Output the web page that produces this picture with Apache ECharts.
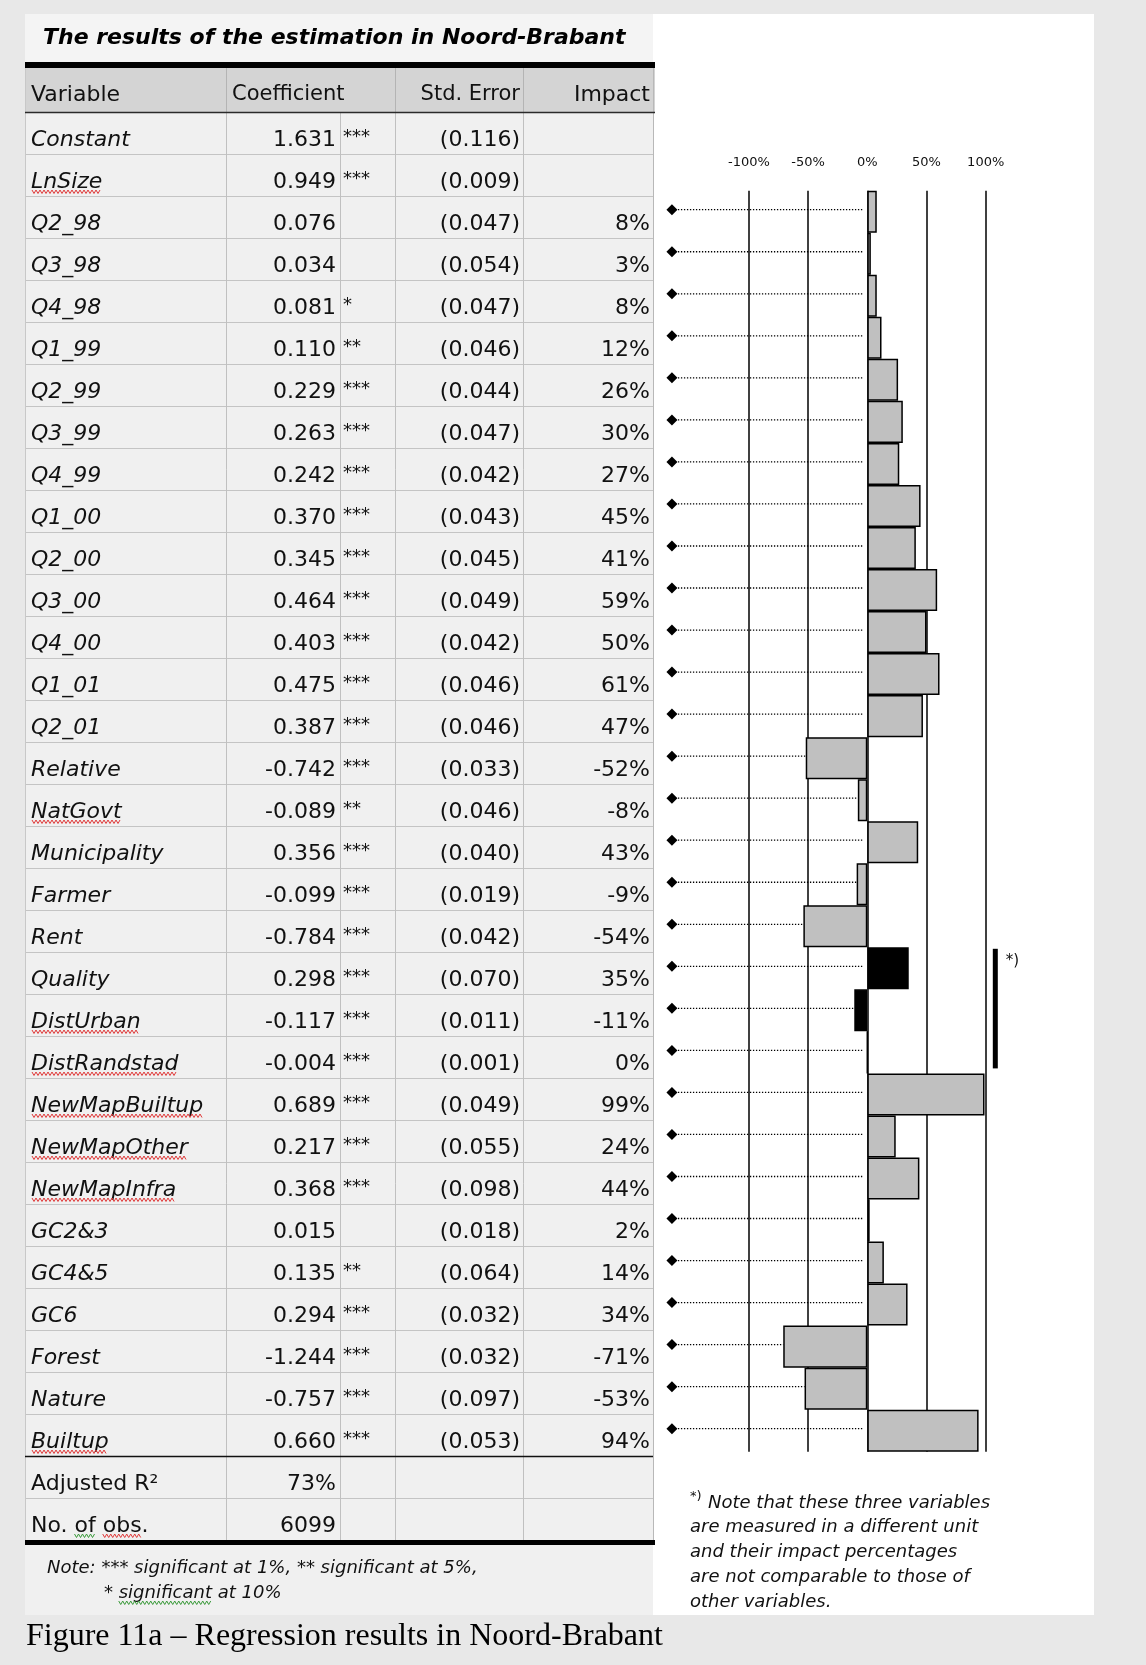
<!DOCTYPE html>
<html><head><meta charset="utf-8">
<script src="https://cdn.jsdelivr.net/npm/echarts@6/dist/echarts.min.js"></script>
<style>html,body{margin:0;padding:0;background:#e8e8e8}#c{width:1146px;height:1665px}</style>
</head><body><div id="c"></div>
<script>
// ---------------- data ----------------
const variables = ['Constant','LnSize','Q2_98','Q3_98','Q4_98','Q1_99','Q2_99','Q3_99','Q4_99','Q1_00','Q2_00','Q3_00','Q4_00','Q1_01','Q2_01','Relative','NatGovt','Municipality','Farmer','Rent','Quality','DistUrban','DistRandstad','NewMapBuiltup','NewMapOther','NewMapInfra','GC2&3','GC4&5','GC6','Forest','Nature','Builtup'];
const coefficients = [1.631,0.949,0.076,0.034,0.081,0.110,0.229,0.263,0.242,0.370,0.345,0.464,0.403,0.475,0.387,-0.742,-0.089,0.356,-0.099,-0.784,0.298,-0.117,-0.004,0.689,0.217,0.368,0.015,0.135,0.294,-1.244,-0.757,0.660];
const stars = ['***','***','','','*','**','***','***','***','***','***','***','***','***','***','***','**','***','***','***','***','***','***','***','***','***','','**','***','***','***','***'];
const stdErrors = [0.116,0.009,0.047,0.054,0.047,0.046,0.044,0.047,0.042,0.043,0.045,0.049,0.042,0.046,0.046,0.033,0.046,0.040,0.019,0.042,0.070,0.011,0.001,0.049,0.055,0.098,0.018,0.064,0.032,0.032,0.097,0.053];
const impacts = [null,null,8,3,8,12,26,30,27,45,41,59,50,61,47,-52,-8,43,-9,-54,35,-11,0,99,24,44,2,14,34,-71,-53,94];
const summaryLabels = ['Adjusted R\u00B2','No. of obs.'];
const summaryValues = ['73%','6099'];
const differentUnit = ['Quality','DistUrban','DistRandstad'];
const axisTicks = [-100,-50,0,50,100];
const spellFlagged = ['LnSize','NatGovt','DistUrban','DistRandstad','NewMapBuiltup','NewMapOther','NewMapInfra','Builtup'];

const titleText = 'The results of the estimation in Noord-Brabant';
const headers = ['Variable','Coefficient','Std. Error','Impact'];
const noteLeft = ['Note: *** significant at 1%, ** significant at 5%,','* significant at 10%'];
const noteRight = ['Note that these three variables','are measured in a different unit','and their impact percentages','are not comparable to those of','other variables.'];
const captionText = 'Figure 11a \u2013 Regression results in Noord-Brabant';

// chart part uses variables with an impact value
const chartCats = variables.filter((v,i)=>impacts[i]!==null);
const chartVals = impacts.filter(v=>v!==null);

// ---------------- layout ----------------
const FONT = '"DejaVu Sans"';
const L = 25, R = 653, ROW0 = 112, RH = 42;
const colLines = [226, 340, 395, 523];
const ctx = document.createElement('canvas').getContext('2d');
function tw(font, t){ ctx.font = font; return ctx.measureText(t).width; }

const g = [];
function rect(x,y,w,h,fill,z){ g.push({type:'rect', z: z||0, silent:true, shape:{x,y,width:w,height:h}, style:{fill}}); }
function line(x1,y1,x2,y2,stroke,w,z){ g.push({type:'line', z: z||1, silent:true, shape:{x1,y1,x2,y2}, style:{stroke, lineWidth:w}}); }
function text(t,x,y,font,align,fill,z){ g.push({type:'text', z: z||5, silent:true, x, y, style:{text:t, font, fill: fill||'#111', textAlign:align||'left', align:align||'left', textVerticalAlign:'middle', verticalAlign:'middle'}}); }
function wavy(x0,w,yTop,color){ const pts=[]; let k=0; for(let x=x0;x<=x0+w;x+=2,k++){ pts.push([x, yTop + (k%2?3.5:0)]); } g.push({type:'polyline', z:6, silent:true, shape:{points:pts}, style:{stroke:color, lineWidth:1, fill:null}}); }

// backgrounds
rect(0,0,1146,1665,'#e8e8e8',-20);
rect(L,14,R-L,1601,'#f0f0f0',-19);
rect(L,14,R-L,48,'#f4f4f4',-18);
rect(R,14,1094-R,1601,'#ffffff',-19);
rect(L,62,R-L+2,6,'#000',-17);
rect(L,68,R-L+2,44,'#d4d4d4',-18);
line(L,112.5,R+2,112.5,'#2a2a2a',1.5,2);

// title
text(titleText, 43, 38, 'italic bold 22px '+FONT, 'left', '#000');

// header
const hy = 95;
text(headers[0], 31, hy, '22px '+FONT, 'left');
text(headers[1], 232, hy, '21px '+FONT, 'left');
text(headers[2], 520, hy, '21px '+FONT, 'right');
text(headers[3], 650, hy, '22px '+FONT, 'right');
[226,395,523].forEach(x=>line(x+0.5,68,x+0.5,112,'#b4b4b4',1,1));

// rows
const nRows = variables.length + summaryLabels.length;
for(let i=1;i<=nRows;i++){
  const y = ROW0 + i*RH;
  if(i===variables.length) line(L,y+0.5,R,y+0.5,'#111',1.5,2);
  else if(i<nRows) line(L,y+0.5,R,y+0.5,'#c4c4c4',1,1);
}
colLines.forEach(x=>line(x+0.5,ROW0+1,x+0.5,ROW0+nRows*RH,'#c0c0c0',1,1));
line(L+0.5,68,L+0.5,ROW0+nRows*RH,'#c8c8c8',1,1);
line(R+0.5,68,R+0.5,ROW0+nRows*RH,'#b8b8b8',1,1);
rect(L,ROW0+nRows*RH,R-L+2,5,'#000',-16);

variables.forEach((v,i)=>{
  const top = ROW0 + i*RH, ty = top + 28;
  const f = 'italic 22px '+FONT;
  text(v, 31, ty, f, 'left');
  if(spellFlagged.includes(v)) wavy(32, tw(f,v)-2, top+36, '#e03a3a');
  text(coefficients[i].toFixed(3), 336, ty, '22px '+FONT, 'right');
  if(stars[i]) text(stars[i], 343, top+25, '18px '+FONT, 'left');
  text('('+stdErrors[i].toFixed(3)+')', 520, ty, '22px '+FONT, 'right');
  if(impacts[i]!==null) text(impacts[i]+'%', 650, ty, '22px '+FONT, 'right');
});
summaryLabels.forEach((s,j)=>{
  const top = ROW0 + (variables.length+j)*RH, ty = top + 28;
  text(s, 31, ty, '22px '+FONT, 'left');
  text(summaryValues[j], 336, ty, '22px '+FONT, 'right');
});
// spell-check marks on "No. of obs."
{
  const f='22px '+FONT, top = ROW0 + (variables.length+1)*RH;
  const a = tw(f,'No. '), b = tw(f,'of'), c = tw(f,'No. of '), d = tw(f,'obs');
  wavy(31+a, b, top+36, '#3a9a3a');
  wavy(31+c, d, top+36, '#e03a3a');
}

// table notes
const NF = 'italic 18px '+FONT;
text(noteLeft[0], 47, 1568, NF, 'left', '#111');
text(noteLeft[1], 104, 1593, NF, 'left', '#111');
wavy(104+tw(NF,'* '), tw(NF,'significant'), 1601, '#3a9a3a');

// right-side note
text('*)', 690, 1497, '13px '+FONT, 'left', '#111');
noteRight.forEach((t,i)=> text(t, i===0?708:690, 1503 + i*24.8, NF, 'left', '#111'));

// caption
text(captionText, 26, 1637, '32px "Liberation Serif"', 'left', '#000');

// ---------------- chart ----------------
const LEAD_X = -165;      // where the leader diamonds sit (in axis units)
const BRACKET_X = 106;    // position of the "*)" bracket (in axis units)
const bracketIdx = differentUnit.map(v=>chartCats.indexOf(v));

const option = {
  animation:false,
  backgroundColor:'rgba(0,0,0,0)',
  graphic:{elements:g},
  grid:{left:689.7, top:190.7, width:355.2, height:1261, containLabel:false},
  xAxis:{type:'value', position:'top', min:-150, max:150, interval:50,
    axisLine:{show:false}, axisTick:{show:false},
    splitLine:{show:true, lineStyle:{color:['rgba(0,0,0,0)','#000','#000','#000','#000','#000','rgba(0,0,0,0)'], width:1.5}},
    axisLabel:{margin:22, color:'#111', fontFamily:'DejaVu Sans', fontSize:13,
      formatter:v=> axisTicks.includes(v) ? v+'%' : ''}},
  yAxis:{type:'category', inverse:true, data:chartCats, show:false},
  series:[
    {type:'custom', z:1, clip:false, data:chartVals.map((v,i)=>[v,i]), encode:{x:0,y:1},
      renderItem:(params, api)=>{
        const v = api.value(0), idx = api.value(1);
        const p0 = api.coord([LEAD_X, idx]);
        const p1 = api.coord([Math.min(v,0), idx]);
        const y = p0[1]-2;
        return {type:'group', children:[
          {type:'line', shape:{x1:p0[0], y1:y, x2:p1[0]-(v>=0?4:0), y2:y}, style:{stroke:'#000', lineWidth:1.3, lineDash:[1.3,1.7]}},
          {type:'polygon', shape:{points:[[p0[0],y-5.5],[p0[0]+5.5,y],[p0[0],y+5.5],[p0[0]-5.5,y]]}, style:{fill:'#000'}}
        ]};
      }},
    {type:'bar', z:2, barWidth:'100%', barCategoryGap:'0%',
      data:chartVals.map((v,i)=>({value:v, itemStyle: differentUnit.includes(chartCats[i]) ? {color:'#000'} : undefined})),
      itemStyle:{color:'#c0c0c0', borderColor:'#000', borderWidth:1.5}},
    {type:'custom', z:3, clip:false, data:[[BRACKET_X, bracketIdx[0], bracketIdx[bracketIdx.length-1]]], encode:{x:0,y:1},
      renderItem:(params, api)=>{
        const band = api.size([0,1])[1];
        const a = api.coord([api.value(0), api.value(1)]);
        const b = api.coord([api.value(0), api.value(2)]);
        const top = a[1]-band/2+1.5, bot = b[1]+band/2-5;
        return {type:'group', children:[
          {type:'rect', shape:{x:a[0], y:top, width:5, height:bot-top}, style:{fill:'#000'}},
          {type:'text', x:a[0]+13, y:top+12, style:{text:'*)', font:'15px '+FONT, fill:'#111', align:'left', verticalAlign:'middle'}}
        ]};
      }}
  ]
};
const chart = echarts.init(document.getElementById('c'));
chart.setOption(option);
</script></body></html>
